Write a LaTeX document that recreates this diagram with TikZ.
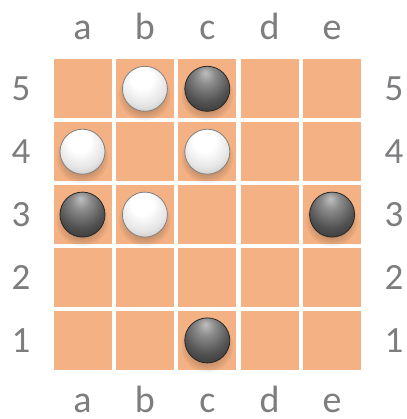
\documentclass[tikz,border=0pt]{standalone}
\usepackage{fontspec}
\setmainfont{Carlito}
\definecolor{cellOrange}{RGB}{244,177,131}
\definecolor{labelGray}{RGB}{125,125,128}
% 棋子的径向渐变
\pgfdeclareradialshading{blackStone}{\pgfpoint{-2bp}{18bp}}{%
  color(0bp)=(black!25); color(10bp)=(black!45); color(26bp)=(black!68);
  color(44bp)=(black!84); color(58bp)=(black!94); color(68bp)=(black!80)}
\pgfdeclareradialshading{whiteStone}{\pgfpoint{-4bp}{14bp}}{%
  color(0bp)=(white); color(12bp)=(white); color(26bp)=(black!10);
  color(38bp)=(black!25); color(50bp)=(black!42); color(64bp)=(black!62)}

\begin{document}
\begin{tikzpicture}[x=1pt, y=1pt,
    % 格子与棋子样式
    cellStyle/.style={fill=cellOrange, minimum width=58pt, minimum height=58.6pt, inner sep=0pt},
    wStone/.style={circle, minimum size=45pt, inner sep=0pt, shading=whiteStone, draw=black!50, line width=0.8pt},
    bStone/.style={circle, minimum size=45pt, inner sep=0pt, shading=blackStone, draw=black!85, line width=0.8pt},
    colLabel/.style={text=labelGray, anchor=base, inner sep=0pt, font=\fontsize{38}{40}\selectfont},
    rowLabel/.style={text=labelGray, inner sep=0pt, font=\fontsize{37}{40}\selectfont}
]
    \useasboundingbox (0,0) rectangle (406,419);

    % 棋盘格子，名字为 a1 ... e5
    \foreach \c [count=\i] in {a,b,c,d,e}
      \foreach \r in {1,...,5}
        \node[cellStyle] (\c\r) at ({82.5+62.4*(\i-1)}, {78.6+62.9*(\r-1)}) {};

    % 上下的列标
    \foreach \c [count=\i] in {a,b,c,d,e} {
        \node[colLabel] (top-\c) at ({82.5+62.4*(\i-1)}, 379) {\c};
        \node[colLabel] (bot-\c) at ({82.5+62.4*(\i-1)}, 6) {\c};
    }

    % 左右的行标
    \foreach \r in {1,...,5} {
        \node[rowLabel] (left-\r) at (21, {78.6+62.9*(\r-1)}) {\r};
        \node[rowLabel] (right-\r) at (394, {78.6+62.9*(\r-1)}) {\r};
    }

    % 棋子下方的阴影
    \foreach \s in {b5,c5,a4,c4,a3,b3,e3,c1}
      \foreach \k in {0,...,4}
        \fill[black, opacity=0.045] ([yshift=-6pt]\s.center) circle ({17+2.2*\k});

    % 白子
    \foreach \s in {b5,a4,c4,b3}
        \node[wStone] (w-\s) at (\s) {};

    % 黑子
    \foreach \s in {c5,a3,e3,c1}
        \node[bStone] (b-\s) at (\s) {};
\end{tikzpicture}
\end{document}
